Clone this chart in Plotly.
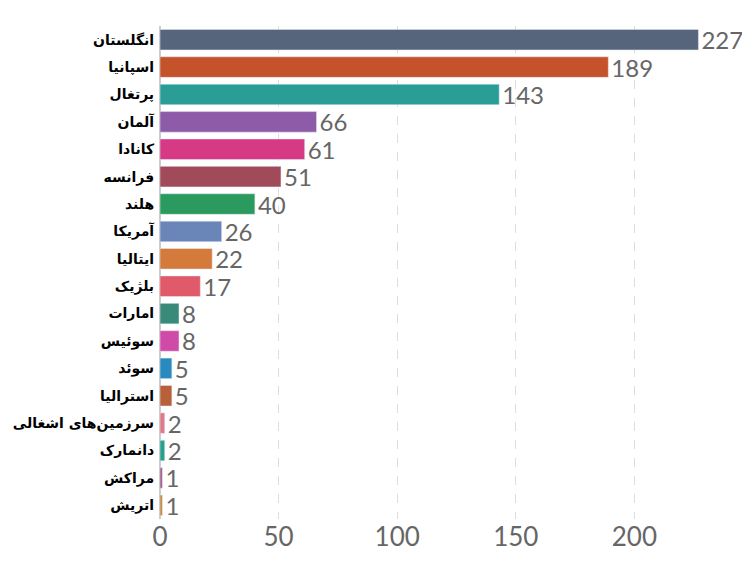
import plotly.graph_objects as go

countries = ["انگلستان", "اسپانیا", "پرتغال", "آلمان", "کانادا", "فرانسه", "هلند", "آمریکا", "ایتالیا",
             "بلژیک", "امارات", "سوئیس", "سوئد", "استرالیا", "سرزمین‌های اشغالی", "دانمارک", "مراکش", "اتریش"]
values = [227, 189, 143, 66, 61, 51, 40, 26, 22, 17, 8, 8, 5, 5, 2, 2, 1, 1]
colors = ["#56657c", "#c4522b", "#2a9d96", "#8e5ba8", "#d63a84", "#a04a5a", "#2a9a5e", "#6a85b8", "#d47a3a",
          "#e05a6a", "#3a8a7a", "#d04aa8", "#2a8abf", "#b8603a", "#e07a8a", "#2aa08a", "#a05a8a", "#c0883a"]

fig = go.Figure(go.Bar(
    x=values, y=countries, orientation="h",
    marker=dict(color=colors),
    text=values, textposition="outside", cliponaxis=False, constraintext="none",
    textfont=dict(size=24, color="#666666", family="Lato"),
))

fig.update_layout(
    width=750, height=579,
    margin=dict(l=152, r=5, t=18, b=68),
    plot_bgcolor="white", paper_bgcolor="white",
    bargap=0.25, showlegend=False,
)
fig.update_xaxes(range=[0, 250], tickvals=[0, 50, 100, 150, 200],
                 tickfont=dict(size=26, color="#666666", family="Lato"),
                 showgrid=True, gridcolor="#dddddd", griddash="dash",
                 zeroline=True, zerolinecolor="#cccccc")
fig.update_yaxes(autorange="reversed",
                 tickfont=dict(size=14, color="black", family="DejaVu Sans", weight="bold"),
                 ticksuffix=" ")

fig.write_html("out.html")
